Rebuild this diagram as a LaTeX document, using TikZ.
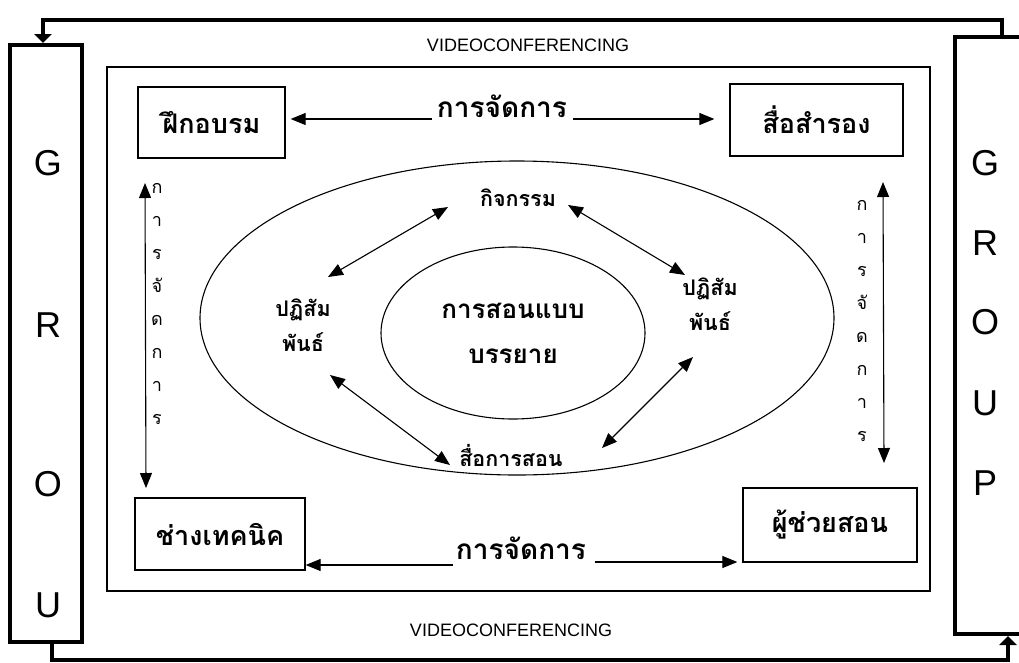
\documentclass[tikz,border=0pt]{standalone}
\usepackage{fontspec}
\setmainfont{Liberation Sans}
\newfontfamily\thaifont[Script=Thai]{Loma}
\usetikzlibrary{arrows.meta,shapes.geometric}
\begin{document}
\begin{tikzpicture}[x=1pt,y=-1pt,
  heavy/.style={line width=4pt},
  thinline/.style={line width=1.1pt},
  framebox/.style={draw,line width=1.3pt,inner sep=0pt},
  boxlabel/.style={framebox,font=\thaifont\bfseries\fontsize{27}{30}\selectfont},
  mlabel/.style={font=\thaifont\bfseries\fontsize{28}{30}\selectfont,inner sep=2pt},
  slabel/.style={font=\thaifont\bfseries\fontsize{21.5}{35}\selectfont,align=center,inner sep=2pt},
  vlabel/.style={font=\thaifont\fontsize{18}{32.9}\selectfont,align=center,inner sep=0pt},
  gletter/.style={font=\fontsize{36}{36}\selectfont,inner sep=0pt},
  vcf/.style={font=\fontsize{18}{20}\selectfont,inner sep=0pt},
  arr/.style={thinline,-{Triangle[length=15pt,width=12pt]}},
  dbl/.style={thinline,{Triangle[length=15pt,width=12pt]}-{Triangle[length=15pt,width=12pt]}},
  bigarr/.style={heavy,-{Triangle[length=9pt,width=17pt]}}]
\useasboundingbox (0,0) rectangle (1019,662);
\fill[white] (0,0) rectangle (1019,662);

% group boxes
\node[draw,heavy,minimum width=72pt,minimum height=597pt,inner sep=0pt] (gl) at (46,343.5) {};
\node[draw,heavy,minimum width=80pt,minimum height=597pt,inner sep=0pt,anchor=north west] (gr) at (953,35) {};
\node[gletter] (g1) at (48,163) {G};
\node[gletter] (g2) at (48,325) {R};
\node[gletter] (g3) at (48,484) {O};
\node[gletter] (g4) at (48,605) {U};
\node[gletter] (p1) at (985,163) {G};
\node[gletter] (p2) at (985,243) {R};
\node[gletter] (p3) at (985,322) {O};
\node[gletter] (p4) at (985,403) {U};
\node[gletter] (p5) at (985,483) {P};

% feedback loops
\coordinate (tl) at (43,20);
\coordinate (tr) at (1002,20);
\draw[heavy,line join=miter] (gr.north west -| tr) -- (tr) -- (tl) -- ++(0,2);
\draw[bigarr] (tl) -- (tl |- gl.north);
\coordinate (bl) at (52,660);
\coordinate (br) at (1008,660);
\draw[heavy,line join=miter] (gl.south -| bl) -- (bl) -- (br) -- ++(0,-2);
\draw[bigarr] (br) -- (br |- gr.south);

% frame
\node[draw,line width=1.5pt,minimum width=823pt,minimum height=524pt,inner sep=0pt] (frame) at (518.5,329) {};
\node[vcf] (vt) at (528,45) {VIDEOCONFERENCING};
\node[vcf] (vb) at (511,630) {VIDEOCONFERENCING};

% corner boxes
\node[boxlabel,minimum width=147pt,minimum height=71pt] (fk) at (211.5,122.5) {ฝึกอบรม};
\node[boxlabel,minimum width=173pt,minimum height=72pt] (ss) at (816.5,120) {สื่อสำรอง};
\node[boxlabel,minimum width=170pt,minimum height=72pt] (ct) at (220,534) {ช่างเทคนิค};
\node[boxlabel,minimum width=174pt,minimum height=74pt] (ph) at (830,525) {ผู้ช่วยสอน};

% management labels and arrows
\node[mlabel] (mt) at (502,106) {การจัดการ};
\node[mlabel] (mb) at (521,548) {การจัดการ};
\coordinate (mtl) at (432,119);
\coordinate (mtr) at (573,119);
\coordinate (mbl) at (453,565);
\coordinate (mbr) at (595,562);
\draw[arr,shorten >=5pt] (mtl) -- (fk.east |- mtl);
\draw[arr,shorten >=15pt] (mtr) -- (ss.west |- mtr);
\draw[arr] (mbl) -- (ct.east |- mbl);
\draw[arr,shorten >=5pt] (mbr) -- (ph.west |- mbr);

% vertical management arrows
\coordinate (la1) at (145,183);
\coordinate (la2) at (146,488);
\draw[dbl] (la1) -- (la2);
\node[vlabel] (lv) at (157,304) {ก\\า\\ร\\จั\\ด\\ก\\า\\ร};
\coordinate (ra1) at (883,182);
\coordinate (ra2) at (884,463);
\draw[dbl] (ra1) -- (ra2);
\node[vlabel] (rv) at (862,321) {ก\\า\\ร\\จั\\ด\\ก\\า\\ร};

% ellipses
\node[draw,thinline,ellipse,minimum width=634pt,minimum height=314pt,inner sep=0pt] (outer) at (517,318) {};
\node[draw,thinline,ellipse,minimum width=264pt,minimum height=172pt,inner sep=0pt,
      font=\thaifont\bfseries\fontsize{26}{45}\selectfont,align=center] (core) at (513,333) {การสอนแบบ\\บรรยาย};

% ring labels
\node[slabel] (kj) at (518,198) {กิจกรรม};
\node[slabel] (lp) at (303,325) {ปฏิสัม\\พันธ์};
\node[slabel] (rp) at (710,304) {ปฏิสัม\\พันธ์};
\node[slabel] (sk) at (511,455) {สื่อการสอน};

\draw[dbl] ([xshift=-70pt,yshift=-9pt]kj.center) -- ([xshift=25pt,yshift=48pt]lp.center);
\draw[dbl] ([xshift=50pt,yshift=-7pt]kj.center) -- ([xshift=-25pt,yshift=29pt]rp.center);
\draw[dbl] ([xshift=27pt,yshift=-50pt]lp.center) -- ([xshift=-61pt,yshift=-10pt]sk.center);
\draw[dbl] ([xshift=-17pt,yshift=-53pt]rp.center) -- ([xshift=91pt,yshift=7pt]sk.center);
\end{tikzpicture}
\end{document}
